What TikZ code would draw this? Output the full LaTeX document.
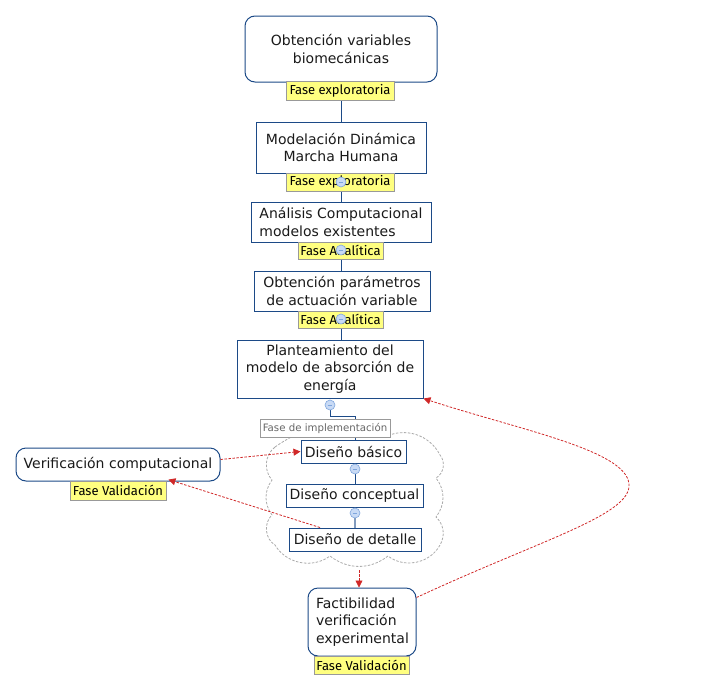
\documentclass[tikz,border=0pt]{standalone}
\usepackage{fontspec}
\setmainfont{DejaVu Sans}
\newfontfamily\labfont{Fira Sans}
\usetikzlibrary{arrows.meta}
\pgfdeclarelayer{background}
\pgfsetlayers{background,main}
\definecolor{boxblue}{HTML}{1C4A87}
\definecolor{labyellow}{HTML}{FFFF80}
\definecolor{labgray}{HTML}{999999}
\definecolor{relred}{HTML}{D02828}
\definecolor{knobfill}{HTML}{C8DAF5}
\definecolor{knobline}{HTML}{7FA6DD}
\definecolor{cloudgray}{HTML}{AAAAAA}
\definecolor{txt}{HTML}{1A1A1A}
\tikzset{
  topic/.style={draw=boxblue, line width=1pt, fill=white, text=txt, align=center,
    inner sep=0pt, font=\fontsize{14}{17.5}\selectfont},
  rtopic/.style={topic, rounded corners=10pt},
  flag/.style={draw=labgray, line width=0.8pt, fill=labyellow, text=black, inner sep=0pt,
    font=\labfont\fontsize{13}{15}\selectfont},
  grayflag/.style={draw=labgray, line width=0.8pt, fill=white, text=black!60, inner sep=0pt,
    font=\fontsize{10.2}{12}\selectfont},
  knob/.style={circle, draw=knobline, line width=0.6pt, fill=knobfill, minimum size=10pt,
    inner sep=0pt, path picture={\draw[knobline, line width=0.8pt]
      ([xshift=-2.4pt]path picture bounding box.center) -- ([xshift=2.4pt]path picture bounding box.center);}},
  link/.style={draw=boxblue, line width=0.9pt},
  rel/.style={draw=relred, line width=0.8pt, dash pattern=on 2.5pt off 1.5pt,
    -{Triangle[length=7pt,width=7pt]}},
  cloudline/.style={draw=cloudgray, line width=0.8pt, dash pattern=on 2.5pt off 1.5pt},
}
\begin{document}
\begin{tikzpicture}[x=1pt,y=1pt]
\useasboundingbox (0,0) rectangle (723,-691);

% cloud
\draw[cloudline]
  (275,-447) to[bend left=30] (385,-437) to[bend left=45] (440,-455)
  to[bend left=50] (436,-478) to[bend left=38] (436,-517) to[bend left=38] (440,-545)
  to[bend left=50] (388,-556) to[bend left=38] (330,-556) to[bend left=48] (275,-545)
  to[bend left=53] (272,-515) to[bend left=36] (272,-480) to[bend left=47] cycle;
\coordinate (cloudbottom) at (359,-570);

% topics
\node[rtopic, minimum width=192pt, minimum height=66pt] (b1) at (341,-49)
  {Obtención variables\\biomecánicas};
\node[flag, minimum width=108pt, minimum height=19pt] (l1) at (340,-90.5) {Fase exploratoria};

\node[topic, minimum width=170pt, minimum height=51pt] (b2) at (341,-147.5)
  {Modelación Dinámica\\Marcha Humana};
\node[flag, minimum width=108pt, minimum height=18pt] (l2) at (340,-182) {Fase exploratoria};
\node[knob] (k2) at (341,-182) {};

\node[topic, minimum width=180pt, minimum height=40pt, align=left] (b3) at (341,-222)
  {Análisis Computacional\\modelos existentes};
\node[flag, minimum width=85pt, minimum height=17pt] (l3) at (340.5,-250.5) {Fase Analítica};
\node[knob] (k3) at (341,-250) {};

\node[topic, minimum width=176pt, minimum height=40pt] (b4) at (342,-291)
  {Obtención parámetros\\de actuación variable};
\node[flag, minimum width=85pt, minimum height=17pt] (l4) at (340.5,-319.5) {Fase Analítica};
\node[knob] (k4) at (341,-319) {};

\node[topic, minimum width=186pt, minimum height=58pt] (b5) at (330,-369)
  {Planteamiento del\\modelo de absorción de\\energía};
\node[knob] (k5) at (330,-405) {};

\node[grayflag, minimum width=130pt, minimum height=18pt] (li) at (325,-428) {Fase de implementación};

\node[topic, minimum width=105pt, minimum height=23pt] (d1) at (353.5,-451.5) {Diseño básico};
\node[knob] (kd1) at (355,-469) {};
\node[topic, minimum width=137pt, minimum height=23pt] (d2) at (354.5,-495.5) {Diseño conceptual};
\node[knob] (kd2) at (355,-513) {};
\node[topic, minimum width=132pt, minimum height=23pt] (d3) at (355,-539.5) {Diseño de detalle};

\node[rtopic, minimum width=204pt, minimum height=33pt] (vc) at (118,-464.5) {Verificación computacional};
\node[flag, minimum width=96pt, minimum height=19pt] (lv1) at (118,-490.5) {Fase Validación};

\node[rtopic, minimum width=108pt, minimum height=68pt, text width=92pt, align=left] (fe) at (362,-622)
  {Factibilidad\\verificación\\experimental};
\node[flag, minimum width=95pt, minimum height=18pt] (lv2) at (361.5,-665) {Fase Validación};

% tree connectors
\begin{pgfonlayer}{background}
\draw[link] (b1.south) -- (b2.north);
\draw[link] (k2) -- (b3.north);
\draw[link] (k3) -- (b4.north -| k3);
\draw[link] (k4) -- (b5.north -| k4);
\draw[link] (k5.south) -- ++(0,-6) -| (kd1 |- d1.north);
\draw[link] (kd1) -- (d2.north -| kd1);
\draw[draw=boxblue!55, line width=1.8pt] (kd2) -- (d3.north -| kd2);
\end{pgfonlayer}

% relations
\draw[rel] ([yshift=5pt]vc.east) -- (d1.west);
\draw[rel] ([xshift=-35pt]d3.north) -- ([xshift=2pt,yshift=1pt]lv1.north east);
\draw[rel] (cloudbottom) -- ([xshift=-3pt]fe.north);
\draw[rel] ([yshift=-10pt]fe.north east) .. controls (540,-540) and (632,-515) .. (629,-484)
  .. controls (626,-450) and (520,-430) .. (b5.south east);
\end{tikzpicture}
\end{document}
